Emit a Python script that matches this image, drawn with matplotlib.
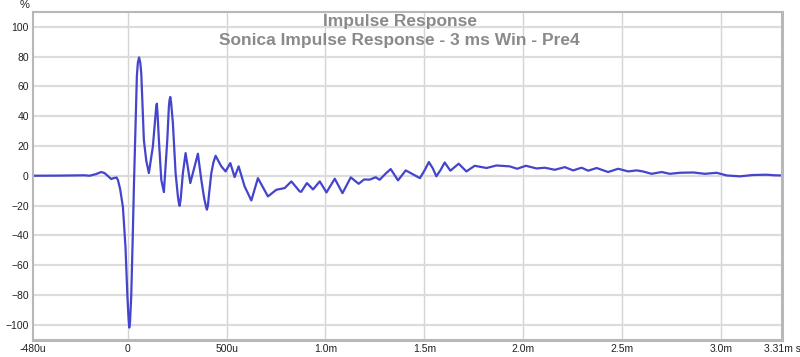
import matplotlib
matplotlib.use("Agg")
import matplotlib.pyplot as plt

# Data (time in microseconds, amplitude in %)
time_us = [
    -480, -346, -219, -194, -164, -135, -118, -103, -84, -70, -57, -50, -39, -25, -12, -2, 4, 7, 11, 17,
    24, 31, 37.5, 45.6, 50.6, 56.7, 62.8, 67.8, 81, 93.2, 106.3, 126.6, 140.2, 143.5, 146.8, 150, 157, 169.1, 182.3,
    199.5, 207.6, 211, 214.7, 219, 227.8, 241.5, 253.2, 257, 261.8, 267, 278.5, 292.1, 304, 315.9, 335, 354.4, 371.6, 386,
    395, 400, 405, 411, 422.3, 433, 444, 472.9, 494.6, 518.5, 540.2, 560.5, 590.9, 624.8, 658.2, 708.9, 751.4, 793.4,
    827.3, 869.3, 877, 906, 937, 971, 1005, 1047, 1086, 1128, 1168, 1195, 1224, 1254, 1274, 1305, 1330,
    1367, 1406, 1442, 1478, 1503, 1523, 1543, 1561, 1583, 1603, 1632, 1674, 1713, 1755, 1815, 1865, 1932,
    1970, 2014, 2068, 2110, 2160, 2211, 2253, 2296, 2329, 2372, 2430, 2481, 2532, 2574, 2606, 2650, 2701,
    2743, 2793, 2861, 2920, 2979, 3030, 3097, 3163, 3232, 3274, 3310,
]
amplitude = [
    0.0, 0.1, 0.3, 0.0, 1.0, 2.5, 1.8, 0.0, -2.2, -1.5, -1.2, -3.0, -9.0, -21.0, -48.0, -82.0, -97.0, -102.0, -98.0, -81.0,
    -45.0, -5.0, 27.0, 67.0, 76.0, 79.5, 76.0, 69.0, 24.0, 10.0, 1.8, 19.7, 42.0, 46.5, 48.4, 42.0, 24.0, -2.7, -11.0,
    24.0, 46.6, 51.0, 52.9, 49.0, 35.4, 1.8, -13.9, -17.5, -20.2, -16.0, 1.8, 15.2, 5.0, -4.9, 5.0, 14.8, -2.7, -15.0,
    -20.5, -22.8, -20.0, -12.0, 1.8, 9.0, 13.4, 6.3, 2.9, 8.5, -0.9, 6.3, -7.2, -16.6, -1.6, -13.9, -9.4, -8.3,
    -3.8, -10.5, -10.8, -4.9, -9.2, -3.8, -11.2, -2.0, -11.7, -1.1, -5.4, -2.5, -2.6, -1.0, -2.7, 1.5, 4.5,
    -3.1, 3.6, 1.0, -1.6, 4.0, 9.2, 5.0, -0.4, 4.0, 8.9, 3.4, 8.1, 2.9, 6.7, 5.2, 6.9, 6.3,
    4.7, 6.7, 4.9, 5.4, 4.0, 5.8, 3.6, 5.4, 3.4, 5.2, 2.5, 4.7, 2.9, 3.6, 2.9, 1.3, 2.5,
    1.3, 2.0, 2.2, 1.3, 2.0, 0.2, -0.4, 0.5, 0.7, 0.3, 0.2,
]

x_ticks = [-480, 0, 500, 1000, 1500, 2000, 2500, 3000, 3310]
x_tick_labels = ["-480u", "0", "500u", "1.0m", "1.5m", "2.0m", "2.5m", "3.0m", "3.31m s"]
y_ticks = [-100, -80, -60, -40, -20, 0, 20, 40, 60, 80, 100]
title_lines = ["Impulse Response", "Sonica Impulse Response - 3 ms Win - Pre4"]

plt.rcParams['font.family'] = ['Liberation Sans', 'DejaVu Sans']

fig = plt.figure(figsize=(8.0, 3.57), dpi=100)
ax_bottom_px, ax_top_px = 339.5, 12
ax = fig.add_axes([33 / 800, 1 - ax_bottom_px / 357, (782 - 33) / 800, (ax_bottom_px - ax_top_px) / 357])

ax.plot(time_us, amplitude, color="#4444cc", lw=1.6, solid_joinstyle="round", solid_capstyle="round")

ax.set_xlim(-480, 3310)
ax.set_ylim(-110, 110)
ax.set_xticks(x_ticks)
ax.set_xticklabels(x_tick_labels)
ax.set_yticks(y_ticks)
ax.tick_params(length=0, labelsize=7.5, colors="#222222", pad=3)

for xv in x_ticks[1:-1]:
    ax.axvline(xv, color="#d4d4d4", lw=1.0, zorder=0)
for yv in y_ticks:
    ax.axhline(yv, color="#dcdcdc", lw=1.6, zorder=0)

for side, sp in ax.spines.items():
    sp.set_color("#b8b8b8")
    sp.set_linewidth(1.5 if side in ("top", "left") else 2.2)

fig.text(400 / 800, 1 - 21.5 / 357, title_lines[0], ha="center", va="center",
         fontsize=12.5, fontweight="bold", color="#8a8a8a")
fig.text(399 / 800, 1 - 40.5 / 357, title_lines[1], ha="center", va="center",
         fontsize=12.5, fontweight="bold", color="#8a8a8a")

fig.text(25 / 800, 1 - 5 / 357, "%", ha="center", va="center", fontsize=8, color="#222222")

fig.savefig("out.png", dpi=100)
